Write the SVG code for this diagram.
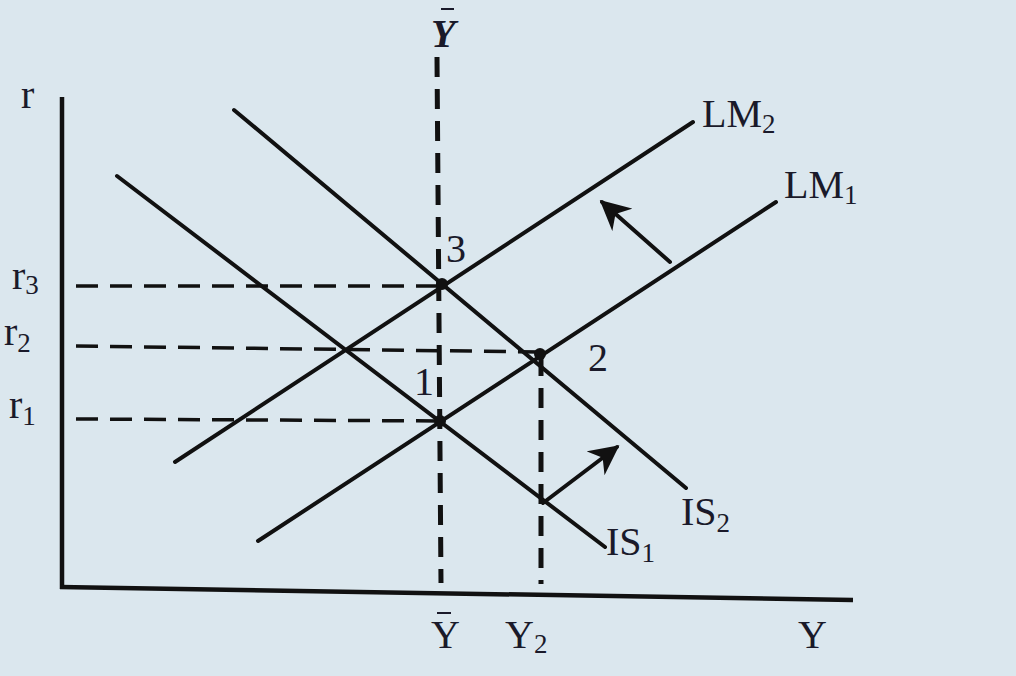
<svg xmlns="http://www.w3.org/2000/svg" width="1016" height="676" viewBox="0 0 1016 676">
<defs>
<style>
.ln{stroke:#111;stroke-width:4;fill:none;stroke-linecap:round}
.ax{stroke:#111;stroke-width:4.5;fill:none}
.ds{stroke:#111;stroke-width:3.5;fill:none;stroke-dasharray:22 12}
.dv{stroke:#111;stroke-width:5;fill:none;stroke-dasharray:20 12}
.t{font-family:"Liberation Serif","Times New Roman",serif;font-size:40px;fill:#1a1a2a}
.s{font-size:27px}
.pt{fill:#111}
.bar{stroke:#1a1a2a;stroke-width:2}
</style>
<marker id="ah" viewBox="0 0 10 10" refX="9" refY="5" markerWidth="7.5" markerHeight="7.5" orient="auto" markerUnits="strokeWidth">
<path d="M0,0 L10,5 L0,10 L3,5 Z" fill="#111"/>
</marker>
</defs>
<rect width="1016" height="676" fill="#dbe7ee"/>
<g id="axes">
<line class="ax" x1="62" y1="97" x2="62" y2="589"/>
<line class="ax" x1="60" y1="587" x2="853" y2="600"/>
</g>
<g id="connectors">
<line class="dv" x1="437" y1="57" x2="441" y2="583"/>
<line class="dv" x1="541" y1="356" x2="541" y2="584"/>
<line class="ds" x1="76" y1="286" x2="440" y2="286"/>
<line class="ds" x1="76" y1="346" x2="540" y2="352"/>
<line class="ds" x1="76" y1="419" x2="440" y2="421"/>
<line class="ln" x1="670" y1="262" x2="602" y2="202" marker-end="url(#ah)"/>
<line class="ln" x1="543" y1="503" x2="617" y2="447" marker-end="url(#ah)"/>
</g>
<g id="LM2"><line class="ln" x1="175" y1="462" x2="693" y2="122"/><text class="t" x="702" y="127">LM<tspan class="s" dy="6">2</tspan></text></g>
<g id="LM1"><line class="ln" x1="258" y1="541" x2="776" y2="202"/><text class="t" x="784" y="198">LM<tspan class="s" dy="6">1</tspan></text></g>
<g id="IS2"><line class="ln" x1="234" y1="110" x2="686" y2="488"/><text class="t" x="681" y="525">IS<tspan class="s" dy="7">2</tspan></text></g>
<g id="IS1"><line class="ln" x1="117" y1="176" x2="605" y2="547"/><text class="t" x="606" y="555">IS<tspan class="s" dy="7">1</tspan></text></g>
<g id="p3"><circle class="pt" cx="442" cy="284" r="6"/><text class="t" x="446" y="262">3</text></g>
<g id="p2"><circle class="pt" cx="540" cy="354" r="6"/><text class="t" x="588" y="371">2</text></g>
<g id="p1"><circle class="pt" cx="440" cy="421" r="6"/><text class="t" x="414" y="395">1</text></g>
<g id="labels">
<text class="t" x="21" y="108">r</text>
<text class="t" x="12" y="289">r<tspan class="s" dy="5">3</tspan></text>
<text class="t" x="4" y="345">r<tspan class="s" dy="7">2</tspan></text>
<text class="t" x="9" y="418">r<tspan class="s" dy="7">1</tspan></text>
<text class="t" x="431" y="47" font-style="italic" font-weight="bold" font-size="42">Y</text>
<line class="bar" x1="441" y1="9" x2="454" y2="9"/>
<text class="t" x="431" y="648">Y</text>
<line class="bar" x1="437" y1="613" x2="451" y2="613"/>
<text class="t" x="505" y="648">Y<tspan class="s" dy="5">2</tspan></text>
<text class="t" x="798" y="648">Y</text>
</g>
</svg>
